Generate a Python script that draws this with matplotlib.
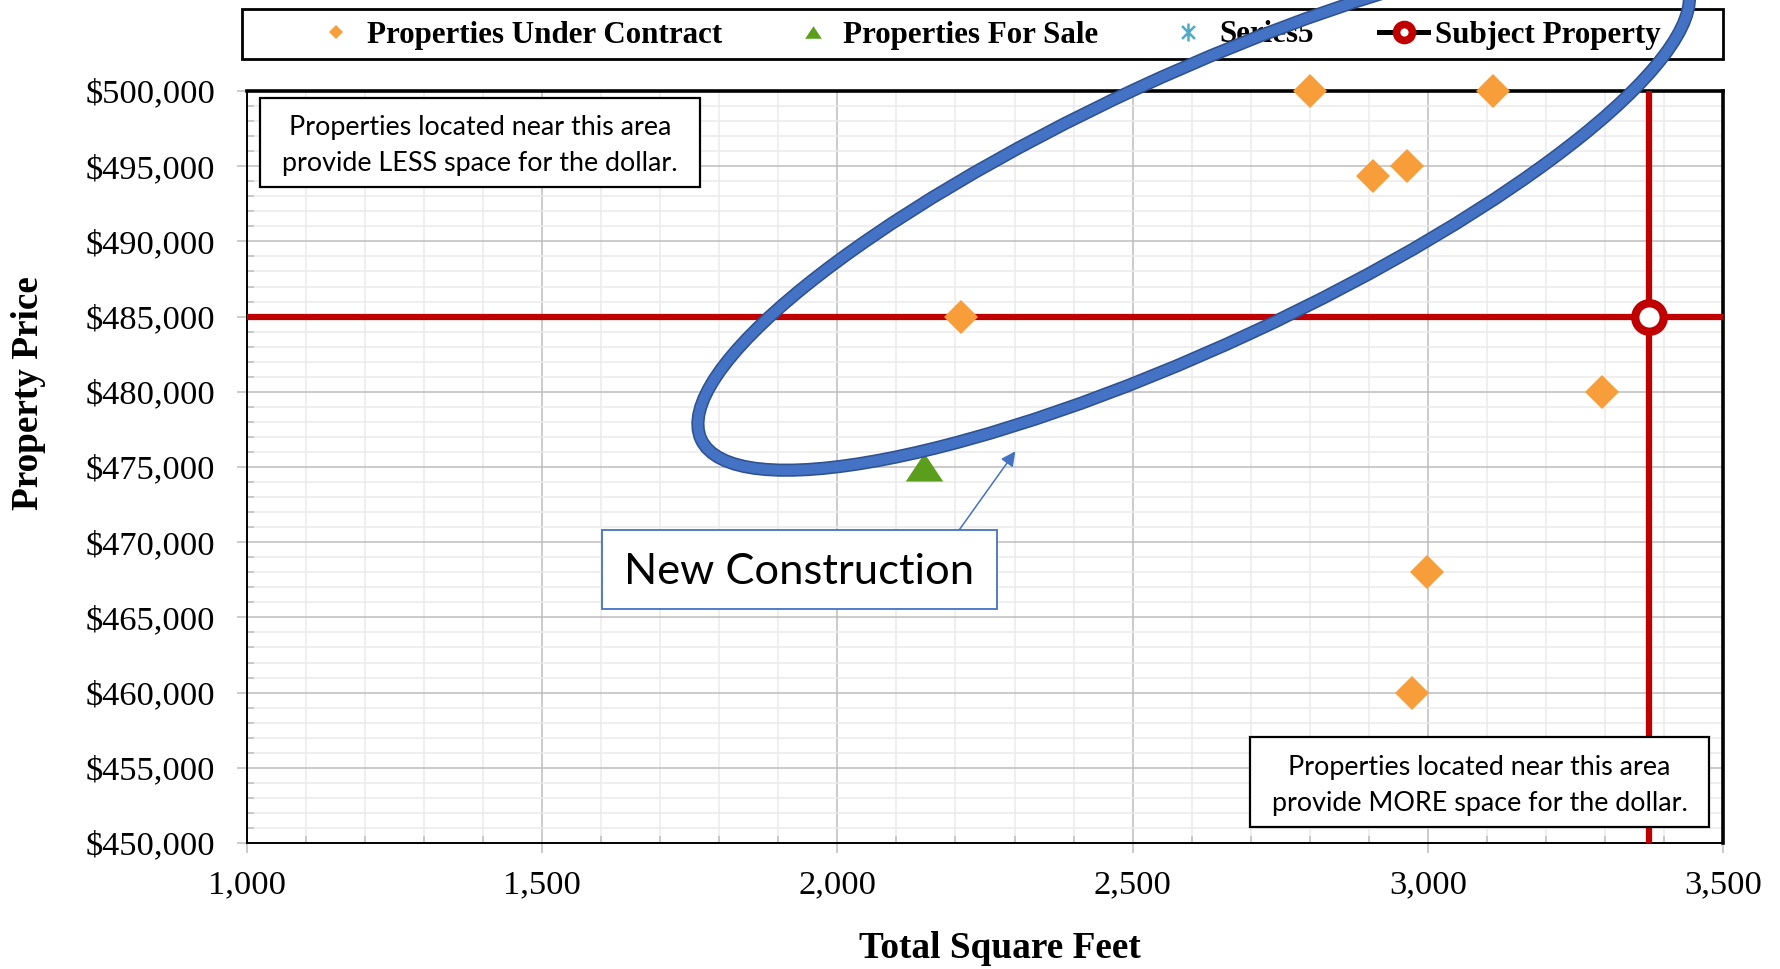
import matplotlib
matplotlib.use("Agg")
import matplotlib.pyplot as plt
from matplotlib.lines import Line2D
from matplotlib.patches import Rectangle, Ellipse
from matplotlib.path import Path
from matplotlib.ticker import MultipleLocator, FuncFormatter

# data
contract_sqft = [2800, 3110, 2907, 2964, 2210, 3295, 2998, 2974]
contract_price = [500000, 500000, 494350, 495000, 485000, 480000, 468000, 460000]
sale_sqft = [2147]
sale_price = [475000]
series5_sqft = []
series5_price = []
subject_sqft = [3375]
subject_price = [485000]

legend_labels = ["Properties Under Contract", "Properties For Sale", "Series5", "Subject Property"]

ORANGE = "#F79D3A"
GREEN = "#5A9E1C"
TEAL = "#4BACC6"
RED = "#C00000"
BLUE = "#4472C4"
DARKBLUE = "#2F528F"

W, H = 1781, 969
plt.rcParams["font.family"] = ["Liberation Serif", "DejaVu Serif"]


def fx(x):
    return x / W


def fy(y):
    return 1 - y / H


fig = plt.figure(figsize=(W / 100, H / 100), dpi=100)
ax = fig.add_axes([fx(247), fy(843), (1723 - 247) / W, (843 - 91) / H])

ax.set_xlim(1000, 3500)
ax.set_ylim(450000, 500000)
ax.xaxis.set_major_locator(MultipleLocator(500))
ax.xaxis.set_minor_locator(MultipleLocator(100))
ax.yaxis.set_major_locator(MultipleLocator(5000))
ax.yaxis.set_minor_locator(MultipleLocator(1000))
ax.xaxis.set_major_formatter(FuncFormatter(lambda v, p: f"{v:,.0f}"))
ax.yaxis.set_major_formatter(FuncFormatter(lambda v, p: f"${v:,.0f}"))

ax.set_axisbelow(True)
ax.grid(which="major", color="#bdbdbd", lw=1.1)
ax.grid(which="minor", color="#ebebeb", lw=1.1)
ax.tick_params(which="major", direction="out", length=7, width=1.1, color="#bdbdbd",
               labelsize=24.8)
ax.tick_params(axis="y", which="major", pad=16)
ax.tick_params(axis="x", which="major", pad=12)
ax.tick_params(which="minor", direction="in", length=5, width=1.1, color="#bdbdbd")
for s in ["left", "bottom"]:
    ax.spines[s].set_linewidth(1.4)
for s in ["top", "right"]:
    ax.spines[s].set_linewidth(2.6)

fig.text(fx(1000), fy(948), "Total Square Feet", ha="center", va="center",
         fontsize=26.8, fontweight="bold")
fig.text(fx(29), fy(393), "Property Price", ha="center", va="center", rotation=90,
         fontsize=26.8, fontweight="bold")

# subject cross lines
ax.axhline(subject_price[0], color=RED, lw=4.5, zorder=3)
ax.axvline(subject_sqft[0], color=RED, lw=4.5, zorder=3)

tri = Path([(0, 0.75), (-1, -0.75), (1, -0.75), (0, 0.75)],
           [Path.MOVETO, Path.LINETO, Path.LINETO, Path.CLOSEPOLY])
aster = Path([(-1, -1), (1, 1), (-1, 1), (1, -1), (0, -1.4), (0, 1.4)],
             [Path.MOVETO, Path.LINETO, Path.MOVETO, Path.LINETO, Path.MOVETO, Path.LINETO])

ax.plot(contract_sqft, contract_price, ls="none", marker="D", ms=17.6, color=ORANGE,
        mew=0, zorder=4, clip_on=False)
ax.plot(sale_sqft, sale_price, ls="none", marker=tri, ms=27, color=GREEN, mew=0,
        zorder=4, clip_on=False)
ax.plot(series5_sqft, series5_price, ls="none", marker=aster, ms=14, mec=TEAL, zorder=4)
ax.plot(subject_sqft, subject_price, ls="none", marker="o", ms=20.5, mfc="white",
        mec=RED, mew=6, zorder=5, clip_on=False)

# legend
handles = [
    Line2D([], [], ls="none", marker="D", ms=7.5, color=ORANGE, mew=0),
    Line2D([], [], ls="none", marker=tri, ms=12, color=GREEN, mew=0),
    Line2D([], [], ls="none", marker=aster, ms=13, mec=TEAL, mew=1.8),
    Line2D([], [], color="black", lw=3.6, marker="o", ms=11.5, mfc="white", mec=RED, mew=5.5),
]
fig.legend(handles, legend_labels, loc="center", bbox_to_anchor=(fx(986), fy(35)),
           ncol=4, frameon=False, prop=dict(family="Liberation Serif", weight="bold", size=22.3),
           handlelength=1.6, handletextpad=0.2, columnspacing=2.1)
fig.add_artist(Rectangle((fx(242), fy(59)), (1723 - 242) / W, 50 / H, transform=fig.transFigure,
                         fill=False, ec="black", lw=2))


def note_box(x0, y0, x1, y1, text, size, ec="black", lw=1.6, dy=3):
    fig.add_artist(Rectangle((fx(x0), fy(y1)), (x1 - x0) / W, (y1 - y0) / H,
                             transform=fig.transFigure, fc="white", ec=ec, lw=lw, zorder=6))
    fig.text(fx((x0 + x1) / 2), fy((y0 + y1) / 2 + dy), text, ha="center", va="center",
             family="Lato", fontsize=size, linespacing=1.55, zorder=7)


note_box(260, 98, 700, 187, "Properties located near this area\nprovide LESS space for the dollar.", 19.4)
note_box(1250, 737, 1709, 827, "Properties located near this area\nprovide MORE space for the dollar.", 19.4)
note_box(602, 530, 997, 609, "New Construction", 31.3, ec=BLUE, lw=1.3)

ax.annotate("", xy=(fx(1017), fy(449)), xycoords="figure fraction",
            xytext=(fx(957), fy(533)), textcoords="figure fraction",
            arrowprops=dict(arrowstyle="-|>", color=BLUE, lw=1.1, mutation_scale=22), zorder=8)

# hand-drawn ellipse around the new construction area (figure inches)
for col, lw in [(DARKBLUE, 9.5), (BLUE, 7.2)]:
    fig.add_artist(Ellipse((11.937, (H - 210.9) / 100), 10.86, 2.698, angle=24.9,
                           transform=fig.dpi_scale_trans, fill=False, ec=col, lw=lw,
                           zorder=10, clip_on=False))

fig.savefig("out.png", dpi=100)
